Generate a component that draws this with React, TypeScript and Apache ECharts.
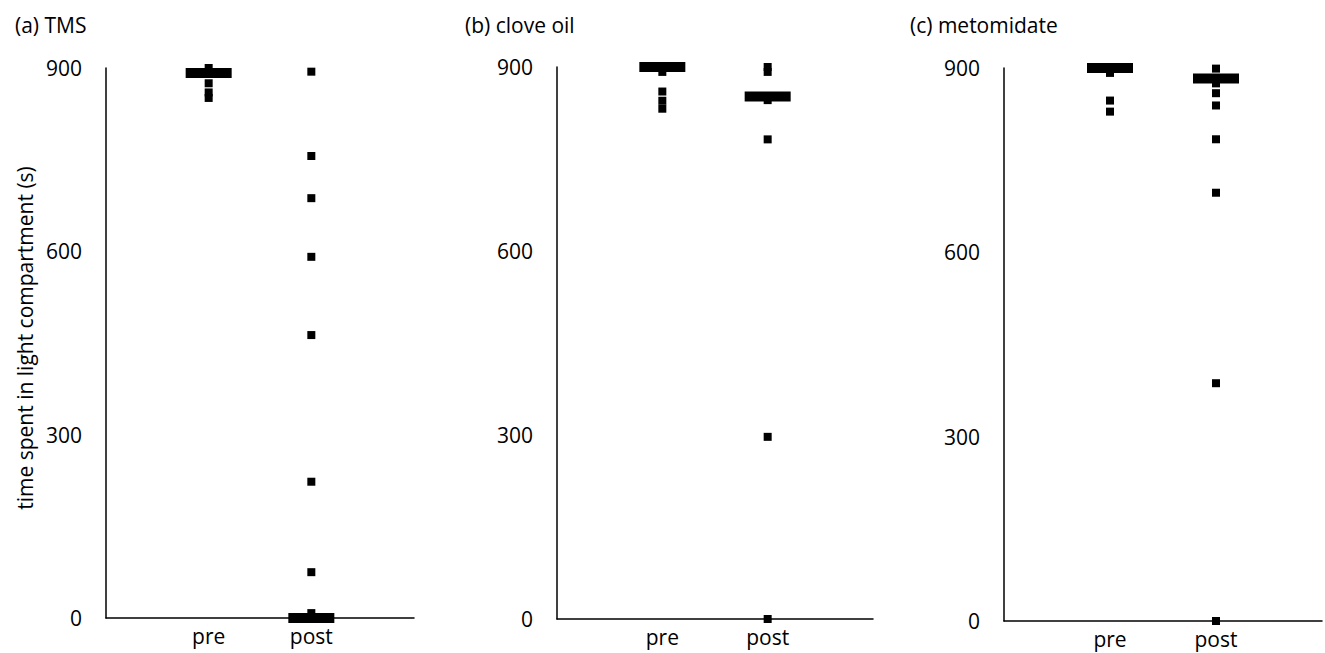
import React, { useEffect, useRef } from "react";
import * as echarts from "echarts";

// ---- data ----
const categories = ["pre", "post"];
const yTicks = [0, 300, 600, 900];

const panelTitles = ["(a) TMS", "(b) clove oil", "(c) metomidate"];
const yAxisTitle = "time spent in light compartment (s)";

// individual fish (s)
const tmsPre = [900, 892, 875, 860, 851];
const tmsPost = [894, 756, 687, 591, 463, 223, 75, 8, 0, 0];
const tmsMedian = [892, 0];

const clovePre = [900, 892, 860, 845, 832];
const clovePost = [900, 892, 852, 846, 782, 297, 0];
const cloveMedian = [900, 852];

const metoPre = [900, 892, 847, 829];
const metoPost = [899, 883, 875, 859, 839, 784, 697, 387, 0];
const metoMedian = [900, 883];

const panels = [
  { pre: tmsPre, post: tmsPost, median: tmsMedian },
  { pre: clovePre, post: clovePost, median: cloveMedian },
  { pre: metoPre, post: metoPost, median: metoMedian },
];

// ---- layout ----
const FONT = "'Open Sans', 'Noto Sans', sans-serif";
const FS = 21;
const gridBoxes = [
  { left: 106, top: 68, width: 308, height: 550 },
  { left: 557, top: 67, width: 316, height: 552 },
  { left: 1004, top: 68, width: 324, height: 553 },
];
const titlePos = [
  { left: 15, top: 14 },
  { left: 465, top: 14 },
  { left: 910, top: 14 },
];

export default function App() {
  const ref = useRef<HTMLDivElement>(null);

  useEffect(() => {
    document.body.style.margin = "0";
    if (!ref.current) return;
    const chart = echarts.init(ref.current, null, { renderer: "svg" });

    const grid: any[] = [];
    const xAxis: any[] = [];
    const yAxis: any[] = [];
    const series: any[] = [];
    const title: any[] = [];

    panels.forEach((p, i) => {
      grid.push({ ...gridBoxes[i], containLabel: false });
      title.push({
        text: panelTitles[i],
        ...titlePos[i],
        padding: 0,
        textStyle: { fontFamily: FONT, fontSize: FS, fontWeight: "normal", color: "#000" },
      });
      xAxis.push({
        type: "value",
        gridIndex: i,
        min: 0,
        max: categories.length + 1,
        interval: 1,
        splitLine: { show: false },
        axisTick: { show: false },
        axisLine: { show: true, lineStyle: { color: "#000", width: 1.5 } },
        axisLabel: {
          margin: 7,
          color: "#000",
          fontFamily: FONT,
          fontSize: FS,
          formatter: (v: number) => categories[v - 1] ?? "",
        },
      });
      yAxis.push({
        type: "value",
        gridIndex: i,
        min: yTicks[0],
        max: yTicks[yTicks.length - 1],
        interval: yTicks[1] - yTicks[0],
        splitLine: { show: false },
        axisTick: { show: false },
        axisLine: { show: true, lineStyle: { color: "#000", width: 1.5 } },
        axisLabel: { margin: 24, color: "#000", fontFamily: FONT, fontSize: FS },
      });
      const groups = [p.pre, p.post];
      groups.forEach((vals, gi) => {
        series.push({
          type: "scatter",
          xAxisIndex: i,
          yAxisIndex: i,
          symbol: "rect",
          symbolSize: 8,
          clip: false,
          itemStyle: { color: "#000", opacity: 1 },
          data: vals.map((v) => [gi + 1, v]),
        });
      });
      series.push({
        type: "scatter",
        xAxisIndex: i,
        yAxisIndex: i,
        symbol: "rect",
        symbolSize: [46, 10],
        clip: false,
        itemStyle: { color: "#000", opacity: 1 },
        data: p.median.map((v, gi) => [gi + 1, v]),
      });
    });

    chart.setOption({
      animation: false,
      backgroundColor: "#fff",
      title,
      grid,
      xAxis,
      yAxis,
      series,
      graphic: [
        {
          type: "text",
          x: 25,
          y: 338,
          rotation: Math.PI / 2,
          style: {
            text: yAxisTitle,
            fontFamily: FONT,
            fontSize: FS,
            fill: "#000",
            align: "center",
            verticalAlign: "middle",
          },
        },
      ],
    });

    return () => chart.dispose();
  }, []);

  return <div ref={ref} style={{ width: 1325, height: 653 }} />;
}
